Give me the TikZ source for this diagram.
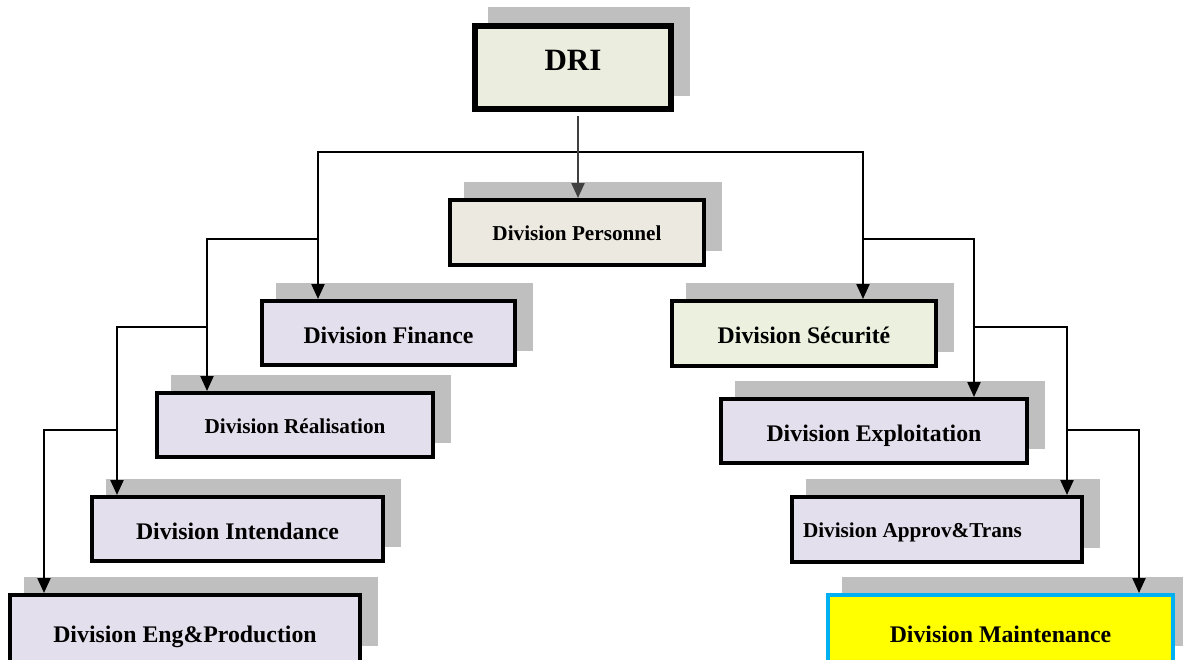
\documentclass[tikz,border=0pt]{standalone}
\usepackage{fontspec}
\setmainfont{Liberation Serif}
\usetikzlibrary{arrows.meta,shadows}
\definecolor{shadowc}{HTML}{BFBFBF}
\definecolor{drifill}{HTML}{EBEEDE}
\definecolor{persfill}{HTML}{ECEAE0}
\definecolor{lav}{HTML}{E4DFEC}
\definecolor{secfill}{HTML}{EBF1DE}
\definecolor{maintfill}{HTML}{FFFF00}
\definecolor{maintborder}{HTML}{00B0F0}
\definecolor{drline}{HTML}{404040}
\tikzset{
  basebox/.style={draw=black, line width=4pt, inner sep=0pt,
    font=\bfseries\fontsize{23.8}{26}\selectfont,
    text height=22pt, text depth=2pt},
  box/.style={basebox,
    drop shadow={shadow xshift=16pt, shadow yshift=16pt, fill=shadowc, draw=shadowc, opacity=1}},
  smallbox/.style={box, font=\bfseries\fontsize{21.2}{24}\selectfont, text height=18pt, text depth=2pt},
  hl/.style={line width=1.4pt, line cap=rect},
  va/.style={line width=2.2pt, -{Triangle[length=15pt,width=13pt]}},
}
\begin{document}
\begin{tikzpicture}[x=1pt,y=-1pt]
\useasboundingbox (0,0) rectangle (1183,659);
\clip (0,0) rectangle (1183,659);

% shadows of the two boxes cut by the lower edge
\fill[shadowc] (24,577) rectangle (378,646);
\fill[shadowc] (842,577) rectangle (1183,646);

% boxes
\node[box, fill=drifill, line width=6pt, minimum width=196pt, minimum height=83pt,
      font=\bfseries\fontsize{31}{34}\selectfont, text height=22pt, text depth=17pt] (dri) at (573,67.5) {DRI};
\node[smallbox, fill=persfill, minimum width=254pt, minimum height=65pt] (pers) at (577,232.5) {Division Personnel};
\node[box, fill=lav, minimum width=253pt, minimum height=64pt] (fin) at (388.5,333) {Division Finance};
\node[smallbox, fill=lav, minimum width=276pt, minimum height=64pt] (real) at (295,425) {Division Réalisation};
\node[box, fill=lav, minimum width=291pt, minimum height=64pt] (int) at (237.5,529) {Division Intendance};
\node[basebox, fill=lav, minimum width=350pt, minimum height=84pt, text height=22pt, text depth=12pt] (eng) at (185,637) {Division Eng\&Production};
\node[box, fill=secfill, minimum width=264pt, minimum height=65pt] (sec) at (804,333.5) {Division Sécurité};
\node[box, fill=lav, minimum width=306pt, minimum height=64pt] (exp) at (874,431) {Division Exploitation};
\node[smallbox, fill=lav, minimum width=290pt, minimum height=65pt] (app) at (937,529.5) {\makebox[268pt][l]{Division Approv\&Trans}};
\node[basebox, fill=maintfill, draw=maintborder, minimum width=345pt, minimum height=84pt, text height=22pt, text depth=12pt] (mnt) at (1000.5,637) {Division Maintenance};

% connector points
\coordinate (dx) at (578,116);
\coordinate (bL) at (318,152);
\coordinate (bR) at (863,152);
\coordinate (l2) at (207,239);
\coordinate (l3) at (117,327);
\coordinate (l4) at (44,430);
\coordinate (r2) at (974,239);
\coordinate (r3) at (1067,327);
\coordinate (r4) at (1139,430);

% connectors
\draw[hl] (bL) -- (bR);
\draw[va, draw=drline, fill=drline] (dx) -- (dx |- pers.north);
\draw[va] (bL) -- (bL |- fin.north);
\draw[va] (bR) -- (bR |- sec.north);

\draw[hl] (bL |- l2) -- (l2);
\draw[va] (l2) -- (l2 |- real.north);
\draw[hl] (l2 |- l3) -- (l3);
\draw[va] (l3) -- (l3 |- int.north);
\draw[hl] (l3 |- l4) -- (l4);
\draw[va] (l4) -- (l4 |- eng.north);

\draw[hl] (bR |- r2) -- (r2);
\draw[va] (r2) -- (r2 |- exp.north);
\draw[hl] (r2 |- r3) -- (r3);
\draw[va] (r3) -- (r3 |- app.north);
\draw[hl] (r3 |- r4) -- (r4);
\draw[va] (r4) -- (r4 |- mnt.north);
\end{tikzpicture}
\end{document}
